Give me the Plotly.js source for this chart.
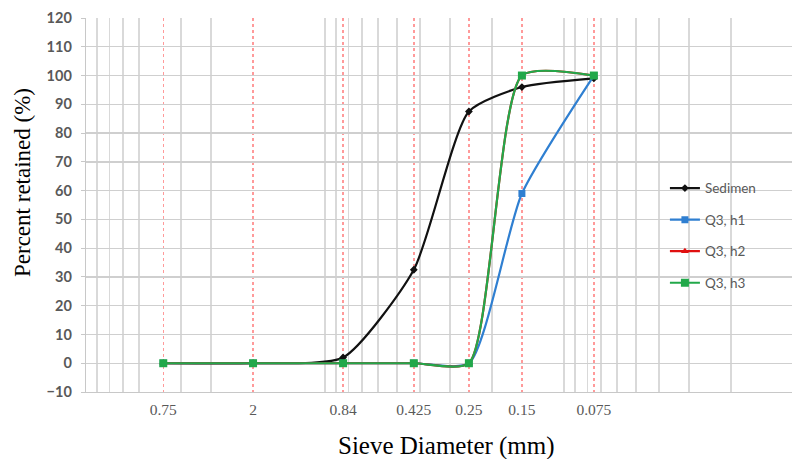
<!DOCTYPE html>
<html>
<head>
<meta charset="utf-8">
<script src="https://cdn.plot.ly/plotly-3.0.1.min.js"></script>
<style>html,body{margin:0;padding:0;background:#fff}#chart{width:792px;height:459px}</style>
</head>
<body>
<div id="chart"></div>
<script>
// Sieve sizes (mm) on a reversed log axis, with the tick labels as printed in the reference
var sieveSizes = [4.75, 2, 0.84, 0.425, 0.25, 0.15, 0.075];
var sieveLabels = ['0.75', '2', '0.84', '0.425', '0.25', '0.15', '0.075'];
// Percent retained per series
var sedimen = [0, 0, 2, 32.5, 87.5, 96, 99];
var q3h1 = [0, 0, 0, 0, 0, 59, 100];
var q3h2 = [0, 0, 0, 0, 0, 100, 100];
var q3h3 = [0, 0, 0, 0, 0, 100, 100];
// Minor (log) gridline values
var minorGrid = [10, 9, 8, 7, 6, 4, 3, 1, 0.9, 0.8, 0.7, 0.6, 0.5, 0.4, 0.3, 0.2, 0.1, 0.09, 0.08, 0.07, 0.06, 0.05, 0.04, 0.03, 0.02];

function mk(name, y, color, symbol, size, group) {
  return {
    x: sieveSizes, y: y, name: name, type: 'scatter', mode: 'lines+markers',
    line: {color: color, width: 2.2, shape: 'spline', smoothing: 0.6},
    marker: {color: color, symbol: symbol, size: size},
    legendgroup: group
  };
}
var traces = [
  mk('Sedimen', sedimen, '#111111', 'diamond', 6, 'a'),
  mk('Q3, h1', q3h1, '#2f7fd1', 'square', 7, 'b'),
  mk('Q3, h2', q3h2, '#e01010', 'triangle-up', 7, 'c'),
  mk('Q3, h3', q3h3, '#22a84a', 'square', 8, 'd')
];

var serif = 'Liberation Serif, Times New Roman, serif';
var layout = {
  width: 792, height: 459,
  margin: {l: 86, r: 0, t: 18, b: 67},
  paper_bgcolor: '#ffffff', plot_bgcolor: '#ffffff',
  showlegend: true,
  legend: {
    x: 0.82, xanchor: 'left', y: 0.586, yanchor: 'top',
    traceorder: 'grouped', tracegroupgap: 11,
    font: {family: 'Lato, Carlito, sans-serif', size: 13.5, color: '#595959'},
    bgcolor: 'rgba(255,255,255,0)'
  },
  xaxis: {
    type: 'log', range: [1, -1.954],
    tickmode: 'array', tickvals: sieveSizes, ticktext: sieveLabels,
    showgrid: true, gridcolor: '#ff9a9a', gridwidth: 1.5, griddash: 'dot',
    minor: {tickmode: 'array', tickvals: minorGrid, showgrid: true, gridcolor: '#d9d9d9', gridwidth: 1.3, griddash: 'solid', ticks: ''},
    ticks: '', ticklabelstandoff: 3,
    showline: true, linecolor: '#c8c8c8', linewidth: 1.3,
    zeroline: false,
    tickfont: {family: serif, size: 15.5, color: '#595959'}
  },
  yaxis: {
    range: [-10, 120], dtick: 10, tick0: 0,
    showgrid: true, gridcolor: '#cfcfcf', gridwidth: 1.3,
    zeroline: false,
    showline: true, linecolor: '#c8c8c8', linewidth: 1.3,
    ticks: 'outside', ticklen: 4, tickcolor: '#c8c8c8', ticklabelstandoff: 6,
    tickfont: {family: 'Lato, Carlito, sans-serif', size: 14.5, color: '#595959', weight: 'bold'}
  },
  annotations: [
    {text: 'Sieve Diameter (mm)', xref: 'paper', yref: 'paper', x: (446 - 86) / 706, y: (392 - 446) / 374,
     xanchor: 'center', yanchor: 'middle', showarrow: false, font: {family: serif, size: 25, color: '#000000'}},
    {text: 'Percent retained (%)', xref: 'paper', yref: 'paper', x: (22 - 86) / 706, y: (392 - 183) / 374,
     xanchor: 'center', yanchor: 'middle', textangle: -90, showarrow: false, font: {family: serif, size: 23, color: '#000000'}}
  ]
};

Plotly.newPlot('chart', traces, layout, {displayModeBar: false, staticPlot: true});
</script>
</body>
</html>
